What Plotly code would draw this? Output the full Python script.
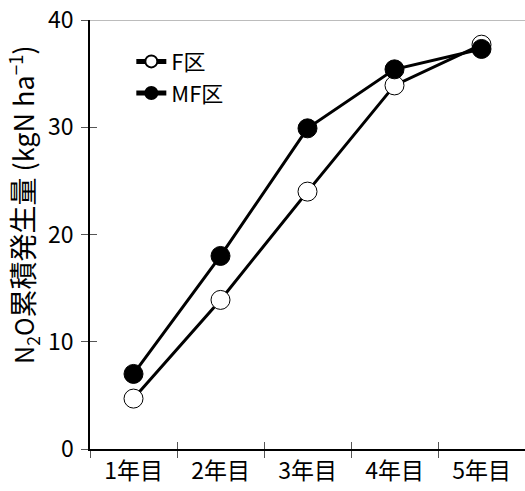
import plotly.graph_objects as go

categories = ["1年目", "2年目", "3年目", "4年目", "5年目"]
f_values = [4.7, 13.9, 24.0, 33.9, 37.7]
mf_values = [7.0, 18.0, 29.9, 35.4, 37.3]
y_ticks = [0, 10, 20, 30, 40]
y_title = ("<span style='font-size:25px'>N<sub>2</sub>O</span>"
           "<span style='font-size:28px'>累積発生量</span>"
           "<span style='font-size:27px'> (kgN ha<sup>−1</sup>)</span>")

FONT = "Noto Sans CJK JP, Noto Sans, sans-serif"

fig = go.Figure()
fig.add_trace(go.Scatter(
    x=categories, y=f_values, name="F区", mode="lines+markers",
    line=dict(color="black", width=3),
    marker=dict(size=19, color="white", line=dict(color="black", width=1)),
))
fig.add_trace(go.Scatter(
    x=categories, y=mf_values, name="MF区", mode="lines+markers",
    line=dict(color="black", width=3),
    marker=dict(size=19, color="black", line=dict(color="black", width=1)),
))
# invisible trace to carry the overlaying axis for crossing ticks
fig.add_trace(go.Scatter(x=categories, y=f_values, xaxis="x2", yaxis="y2",
                         mode="markers", marker=dict(opacity=0), showlegend=False,
                         hoverinfo="skip"))

fig.update_layout(
    width=525, height=491,
    margin=dict(l=90, r=0, t=20, b=42, autoexpand=False),
    paper_bgcolor="white", plot_bgcolor="white",
    font=dict(family=FONT, color="black", size=20),
    showlegend=True,
    legend=dict(x=0.095, y=0.952, xanchor="left", yanchor="top",
                bgcolor="rgba(0,0,0,0)", font=dict(size=22, family=FONT),
                itemsizing="constant", tracegroupgap=0, itemwidth=30),
    xaxis=dict(
        type="category", range=[-0.5, 4.5], tickson="boundaries",
        showline=True, linecolor="black", linewidth=1.5, automargin=False,
        ticks="outside", ticklen=7, tickcolor="#555", tickwidth=1,
        showgrid=False, zeroline=False, ticklabelstandoff=1,
        tickfont=dict(size=23, family=FONT),
    ),
    yaxis=dict(
        range=[0, 40], tickvals=y_ticks, automargin=False,
        showline=True, linecolor="black", linewidth=1.5,
        ticks="outside", ticklen=7, tickcolor="#555", tickwidth=1,
        showgrid=False, zeroline=False, ticklabelstandoff=3,
        tickfont=dict(size=23, family=FONT),
    ),
    xaxis2=dict(
        type="category", range=[-0.5, 4.5], tickson="boundaries", overlaying="x",
        side="bottom", showticklabels=False, ticks="inside", ticklen=7, automargin=False,
        tickcolor="#555", tickwidth=1, showgrid=False, zeroline=False, showline=False,
    ),
    yaxis2=dict(
        range=[0, 40], tickvals=y_ticks, overlaying="y", side="left", automargin=False,
        showticklabels=False, ticks="inside", ticklen=7,
        tickcolor="#555", tickwidth=1, showgrid=False, zeroline=False, showline=False,
    ),
    shapes=[dict(type="line", xref="paper", yref="y", x0=0, x1=1, y0=40, y1=40,
                 line=dict(color="#a6a6a6", width=1.5))],
    annotations=[dict(text=y_title, textangle=-90, xref="paper", yref="paper",
                      x=-0.154, y=0.569, xanchor="center", yanchor="middle",
                      showarrow=False, font=dict(family=FONT, size=27, color="black"))],
)

fig.write_html("out.html", config={"displayModeBar": False},
               post_script="document.body.style.margin='0px';document.body.style.overflow='hidden';")
